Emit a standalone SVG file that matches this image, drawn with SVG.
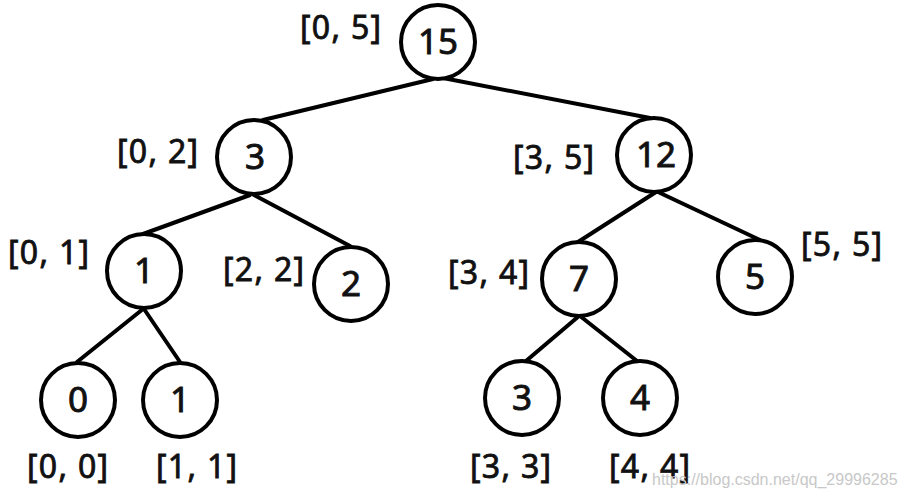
<svg xmlns="http://www.w3.org/2000/svg" width="905" height="495" viewBox="0 0 905 495">
<style>
.n circle{fill:#fff;stroke:#000;stroke-width:4}
.v{font-family:"Noto Sans","DejaVu Sans",sans-serif;font-size:35px;fill:#111;stroke:#111;stroke-width:0.9;text-anchor:middle}
.l{font-family:"Noto Sans","DejaVu Sans",sans-serif;font-size:32px;letter-spacing:1.3px;fill:#111;stroke:#111;stroke-width:0.8}
#edges line{stroke:#000;stroke-width:4;stroke-linecap:round}
.wm{font-family:"Liberation Sans",Arial,sans-serif;font-size:16px;fill:#c8c8c8}
</style>
<rect width="905" height="495" fill="#fff"/>
<g id="edges">
<line x1="433" y1="79" x2="263" y2="120"/>
<line x1="443" y1="78" x2="650" y2="118"/>
<line x1="250" y1="195" x2="143" y2="234"/>
<line x1="254" y1="195" x2="350" y2="246"/>
<line x1="656" y1="192" x2="578" y2="242"/>
<line x1="658" y1="192" x2="760" y2="240"/>
<line x1="143" y1="309" x2="77" y2="362"/>
<line x1="144" y1="309" x2="180" y2="362"/>
<line x1="579" y1="316" x2="526" y2="361"/>
<line x1="580" y1="316" x2="637" y2="361"/>
</g>
<g id="n05" class="n"><circle cx="438" cy="42" r="37"/><text class="v" x="438" y="54">15</text><text class="l" x="300" y="39">[0, 5]</text></g>
<g id="n02" class="n"><circle cx="254" cy="157" r="37"/><text class="v" x="255" y="169">3</text><text class="l" x="117" y="163">[0, 2]</text></g>
<g id="n35" class="n"><circle cx="654" cy="155" r="37"/><text class="v" x="656" y="167">12</text><text class="l" x="513" y="169">[3, 5]</text></g>
<g id="n01" class="n"><circle cx="144" cy="271" r="37"/><text class="v" x="144" y="283">1</text><text class="l" x="8" y="264">[0, 1]</text></g>
<g id="n22" class="n"><circle cx="351" cy="284" r="37"/><text class="v" x="351" y="296">2</text><text class="l" x="223" y="281">[2, 2]</text></g>
<g id="n34" class="n"><circle cx="579" cy="279" r="37"/><text class="v" x="579" y="291">7</text><text class="l" x="448" y="284">[3, 4]</text></g>
<g id="n55" class="n"><circle cx="755" cy="277" r="37"/><text class="v" x="755" y="289">5</text><text class="l" x="801" y="256">[5, 5]</text></g>
<g id="n00" class="n"><circle cx="78" cy="400" r="37"/><text class="v" x="78" y="412">0</text><text class="l" x="27" y="478">[0, 0]</text></g>
<g id="n11" class="n"><circle cx="180" cy="400" r="37"/><text class="v" x="180" y="412">1</text><text class="l" x="156" y="478">[1, 1]</text></g>
<g id="n33" class="n"><circle cx="522" cy="398" r="37"/><text class="v" x="522" y="410">3</text><text class="l" x="470" y="478">[3, 3]</text></g>
<g id="n44" class="n"><circle cx="640" cy="398" r="37"/><text class="v" x="640" y="410">4</text><text class="l" x="609" y="478">[4, 4]</text></g>
<text class="wm" x="652" y="485">https://blog.csdn.net/qq_29996285</text>
</svg>
